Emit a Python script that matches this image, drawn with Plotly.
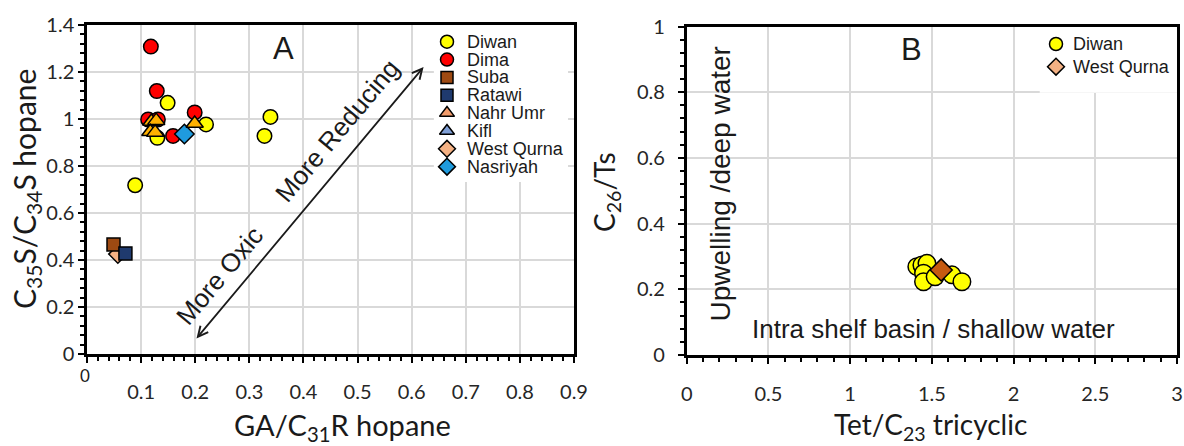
import plotly.graph_objects as go

W, H = 1184, 446

# ---- Panel A: C35S/C34S hopane vs GA/C31R hopane ----
diwan_a_x = [0.149, 0.220, 0.328, 0.339, 0.089, 0.130]
diwan_a_y = [1.069, 0.977, 0.928, 1.009, 0.718, 0.920]
dima_x = [0.118, 0.129, 0.199, 0.159, 0.113, 0.131]
dima_y = [1.308, 1.119, 1.028, 0.928, 0.998, 0.998]
suba_x, suba_y = [0.049], [0.466]
ratawi_x, ratawi_y = [0.071], [0.428]
nahr_umr_x = [0.119, 0.128, 0.117, 0.126, 0.199]
nahr_umr_y = [0.989, 0.993, 0.946, 0.943, 0.981]
kifl_x, kifl_y = [], []
west_qurna_a_x, west_qurna_a_y = [0.057], [0.425]
nasriyah_x, nasriyah_y = [0.180], [0.936]

# ---- Panel B: C26/Ts vs Tet/C23 tricyclic ----
diwan_b_x = [1.408, 1.439, 1.470, 1.449, 1.449, 1.520, 1.623, 1.684]
diwan_b_y = [0.269, 0.274, 0.279, 0.249, 0.223, 0.238, 0.244, 0.223]
west_qurna_b_x, west_qurna_b_y = [1.557], [0.259]

legend_a = ["Diwan", "Dima", "Suba", "Ratawi", "Nahr Umr", "Kifl", "West Qurna", "Nasriyah"]
legend_b = ["Diwan", "West Qurna"]

FA = "Liberation Sans, Arial, sans-serif"
FC = "Lato, Carlito, Calibri, sans-serif"
TXT = "#1a1a1a"
GRID = "#D9D9D9"

# swatch styles used in the legends: (symbol, fill, size)
swatch = {
    "Diwan": ("circle", "#FFFF00", 13),
    "Dima": ("circle", "#FF0000", 13),
    "Suba": ("square", "#9E4A12", 12),
    "Ratawi": ("square", "#1F3A6E", 12),
    "Nahr Umr": ("triangle-up", "#F39C6B", 13),
    "Kifl": ("triangle-up", "#7F9FD6", 13),
    "West Qurna": ("diamond", "#F4B183", 13),
    "Nasriyah": ("diamond", "#1F9BDE", 13),
}

fig = go.Figure()


def pts(x, y, symbol, color, size, xa="x", ya="y"):
    fig.add_trace(go.Scatter(
        x=x, y=y, mode="markers", xaxis=xa, yaxis=ya, showlegend=False,
        cliponaxis=False, hoverinfo="skip",
        marker=dict(symbol=symbol, color=color, size=size,
                    line=dict(color="black", width=1.5)),
    ))


# panel A, back to front
pts(dima_x, dima_y, "circle", "#FF0000", 14.5)
pts(diwan_a_x, diwan_a_y, "circle", "#FFFF00", 14.5)
pts(west_qurna_a_x, west_qurna_a_y, "diamond", "#F4B183", 14)
pts(suba_x, suba_y, "square", "#9E4A12", 13)
pts(ratawi_x, ratawi_y, "square", "#1F3A6E", 13)
pts(kifl_x, kifl_y, "triangle-up", "#7F9FD6", 15)
pts(nasriyah_x, nasriyah_y, "diamond", "#1F9BDE", 15)
pts(nahr_umr_x, nahr_umr_y, "triangle-up", "#FFB000", 15)

# panel B
pts(diwan_b_x, diwan_b_y, "circle", "#FFFF00", 17.5, "x2", "y2")
pts(west_qurna_b_x, west_qurna_b_y, "diamond", "#C55A11", 17, "x2", "y2")

annotations = []
shapes = []


def legend_block(names, mx, tx, y0, step, box, xref, yref):
    x0b, y0b, x1b, y1b = box
    shapes.append(dict(type="rect", xref=xref, yref=yref, x0=x0b, x1=x1b,
                       y0=y0b, y1=y1b, fillcolor="white", line=dict(width=0),
                       layer="between"))
    for i, name in enumerate(names):
        sym, col, sz = swatch[name]
        yy = y0 + i * step
        fig.add_trace(go.Scatter(
            x=[mx], y=[yy], mode="markers", xaxis="x3", yaxis="y3",
            showlegend=False, hoverinfo="skip", cliponaxis=False,
            marker=dict(symbol=sym, color=col, size=sz,
                        line=dict(color="black", width=1.5)),
        ))
        annotations.append(dict(
            text=name, x=tx / W, y=1 - yy / H, xref="paper", yref="paper",
            xanchor="left", yanchor="middle", showarrow=False,
            font=dict(family=FA, size=18, color=TXT),
        ))


legend_block(legend_a, 447, 465, 41.7, 17.85, (0.641, 0.732, 0.889, 1.4), "x", "y")
legend_block(legend_b, 1056, 1071, 44, 22.7, (2.16, 0.798, 3.0, 1.0), "x2", "y2")


def ann(text, x, y, size, xref="x", yref="y", angle=0, family=FA, **kw):
    d = dict(text=text, x=x, y=y, xref=xref, yref=yref, showarrow=False,
             textangle=angle, font=dict(family=family, size=size, color=TXT),
             xanchor="center", yanchor="middle")
    d.update(kw)
    annotations.append(d)


# panel labels and in-plot captions
ann("A", 0.363, 1.302, 31)
ann("B", 1.377, 0.930, 31, "x2", "y2")
ann("More Oxic", 0.245, 0.330, 26, angle=-50)
ann("More Reducing", 0.462, 0.950, 26, angle=-50)
ann("Upwelling /deep water", 0.204, 0.522, 28, "x2", "y2", angle=-90)
ann("Intra shelf basin / shallow water", 1.508, 0.079, 26, "x2", "y2")

# double-headed trend arrow
annotations.append(dict(
    x=0.622, y=1.221, ax=0.200, ay=0.060, xref="x", yref="y", axref="x", ayref="y",
    text="", showarrow=True, arrowside="end+start", arrowhead=5, startarrowhead=5,
    arrowsize=1.1, startarrowsize=1.1, arrowwidth=1.8, arrowcolor="#1a1a1a",
))

# axis titles
ann("GA/C<sub>31</sub>R hopane", 342 / W, 1 - 426 / H, 29, "paper", "paper", family=FC)
ann("C<sub>35</sub>S/C<sub>34</sub>S hopane", 26 / W, 1 - 189 / H, 30, "paper", "paper",
    angle=-90, family=FC)
ann("Tet/C<sub>23</sub> tricyclic", 930 / W, 1 - 426 / H, 28, "paper", "paper", family=FC)
ann("C<sub>26</sub>/Ts", 606 / W, 1 - 192 / H, 28, "paper", "paper", angle=-90, family=FC)
# origin label of panel A sits a little higher and smaller
ann("0", 85 / W, 1 - 375 / H, 17, "paper", "paper", family=FC)

axis_common = dict(
    showgrid=True, gridcolor=GRID, gridwidth=2, zeroline=False,
    showline=True, linecolor="black", linewidth=2.5, mirror=True,
    ticks="outside", ticklen=6, tickwidth=2, tickcolor="black",
    tickfont=dict(family=FC, size=20, color="#262626"),
    automargin=False,
)

fig.update_layout(
    width=W, height=H, margin=dict(l=0, r=0, t=0, b=0, pad=0, autoexpand=False),
    paper_bgcolor="white", plot_bgcolor="rgba(0,0,0,0)",
    showlegend=False,
    xaxis=dict(domain=[87 / W, 574 / W], range=[0, 0.9], anchor="y",
               tickmode="array", tickvals=[i / 10 for i in range(10)],
               ticktext=[""] + [f"{i / 10:.1f}" for i in range(1, 10)],
               ticklabelstandoff=12,
               minor=dict(ticks="outside", ticklen=4, tickwidth=1.5, dtick=0.02,
                          tickcolor="black", showgrid=False),
               **axis_common),
    yaxis=dict(domain=[1 - 354 / H, 1 - 25 / H], range=[0, 1.4], anchor="x",
               dtick=0.2, ticklabelstandoff=0,
               minor=dict(ticks="outside", ticklen=4, tickwidth=1.5, dtick=0.04,
                          tickcolor="black", showgrid=False),
               **axis_common),
    xaxis2=dict(domain=[686.7 / W, 1177 / W], range=[0, 3], anchor="y2",
                dtick=0.5, ticklabelstandoff=13,
                minor=dict(ticks="outside", ticklen=4, tickwidth=1.5, dtick=0.1,
                           tickcolor="black", showgrid=False),
                **axis_common),
    yaxis2=dict(domain=[1 - 355 / H, 1 - 26.5 / H], range=[0, 1], anchor="x2",
                dtick=0.2, ticklabelstandoff=9,
                minor=dict(ticks="outside", ticklen=4, tickwidth=1.5, dtick=0.04,
                           tickcolor="black", showgrid=False),
                **axis_common),
    xaxis3=dict(domain=[0, 1], range=[0, W], anchor="y3", visible=False,
                automargin=False),
    yaxis3=dict(domain=[0, 1], range=[H, 0], anchor="x3", visible=False,
                automargin=False),
    annotations=annotations,
    shapes=shapes,
)

fig.write_html("out.html")
